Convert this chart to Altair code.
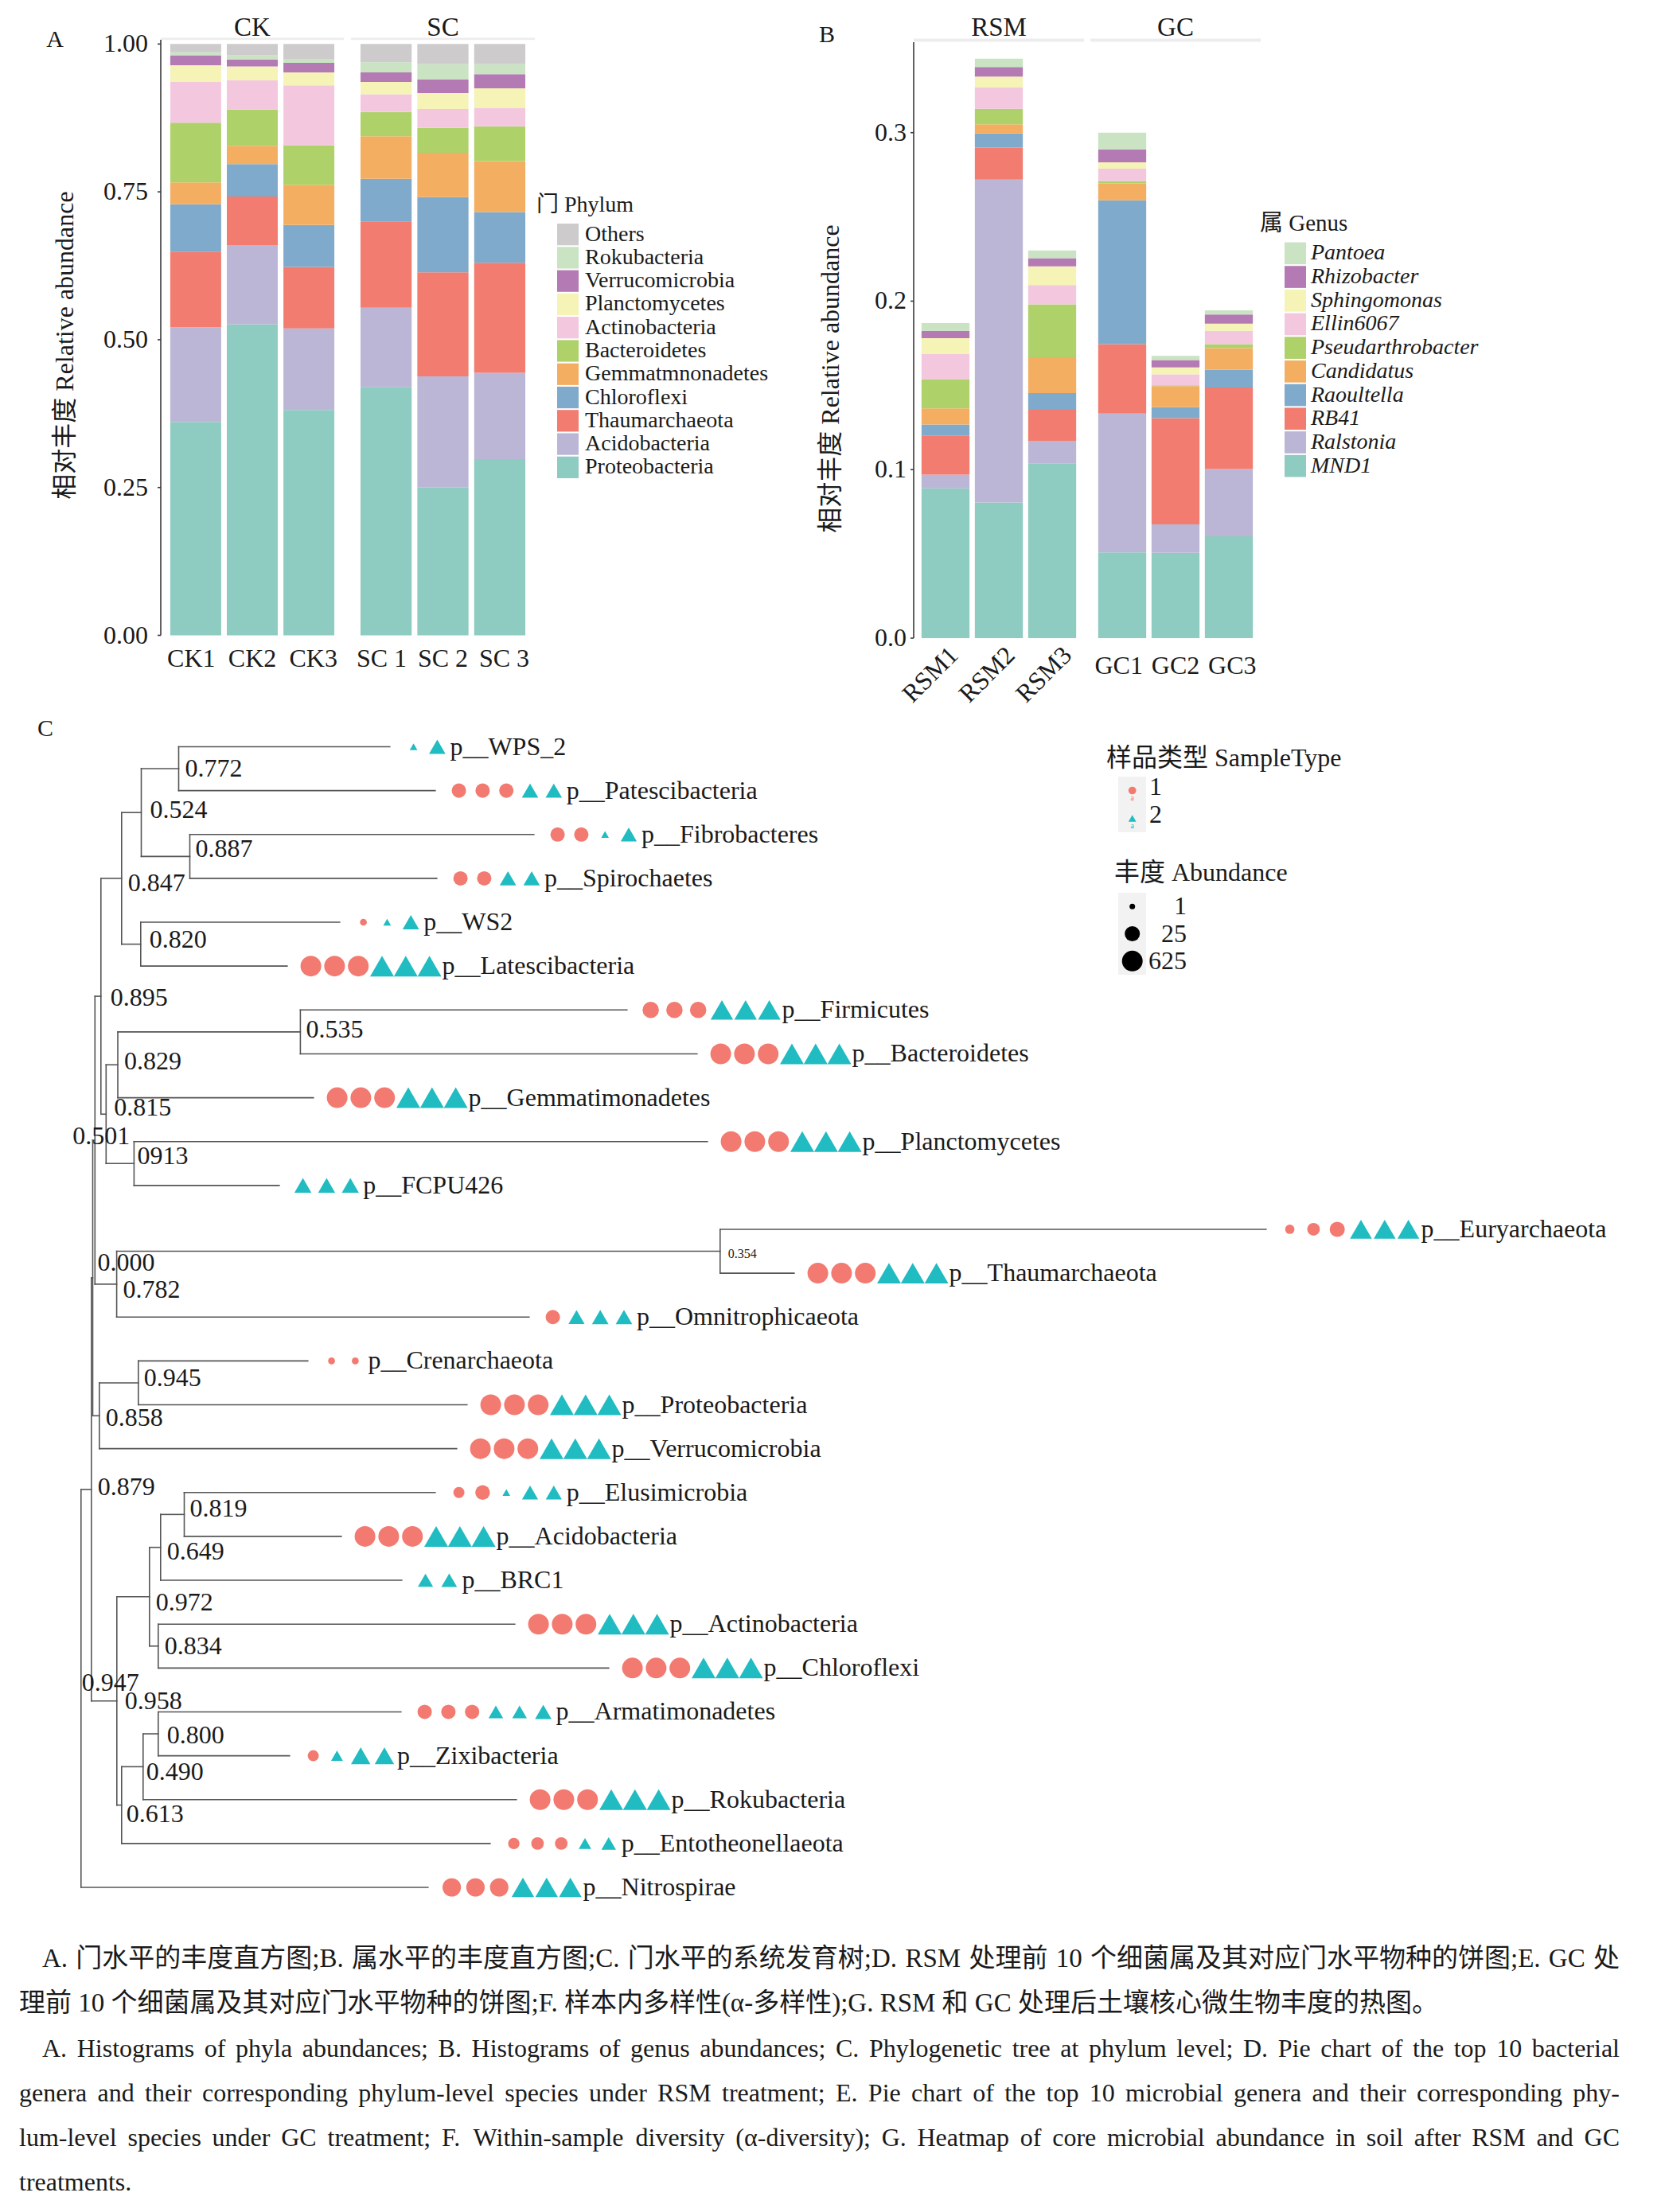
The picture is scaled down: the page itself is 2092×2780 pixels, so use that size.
import altair as alt
import pandas as pd

OFF = 8.0


def P(v):
    return v - OFF


FONT = "'Liberation Serif', 'Noto Sans CJK SC', serif"
INK = "#1a1a1a"
AXIS = "#3a3a3a"
BRANCH = "#555555"
RED = "#F27A70"
TEAL = "#20BCC2"

# ---------------- Panel A : phylum level ----------------
phyla = ["Proteobacteria", "Acidobacteria", "Thaumarchaeota", "Chloroflexi", "Gemmatmnonadetes",
         "Bacteroidetes", "Actinobacteria", "Planctomycetes", "Verrucomicrobia", "Rokubacteria", "Others"]
phyla_colors = ["#8ECBC0", "#BCB6D6", "#F17C6F", "#7FAACC", "#F4AE62", "#AED16A",
                "#F3C8DF", "#F5F3B6", "#B47AB3", "#C9E3C3", "#CDCBCB"]
samples_CK = ["CK1", "CK2", "CK3"]
samples_SC = ["SC 1", "SC 2", "SC 3"]
CK1 = [0.361, 0.160, 0.128, 0.080, 0.037, 0.101, 0.069, 0.028, 0.017, 0.005, 0.014]
CK2 = [0.526, 0.134, 0.082, 0.055, 0.031, 0.061, 0.050, 0.023, 0.012, 0.007, 0.019]
CK3 = [0.381, 0.138, 0.104, 0.071, 0.068, 0.067, 0.101, 0.022, 0.016, 0.007, 0.025]
SC1 = [0.420, 0.134, 0.146, 0.072, 0.072, 0.041, 0.030, 0.021, 0.016, 0.017, 0.031]
SC2 = [0.250, 0.188, 0.176, 0.127, 0.075, 0.042, 0.032, 0.027, 0.023, 0.026, 0.034]
SC3 = [0.298, 0.146, 0.186, 0.086, 0.086, 0.059, 0.031, 0.033, 0.024, 0.017, 0.034]
A_ticks = [0.0, 0.25, 0.50, 0.75, 1.00]
A_tick_labels = ["0.00", "0.25", "0.50", "0.75", "1.00"]

# ---------------- Panel B : genus level ----------------
genera = ["MND1", "Ralstonia", "RB41", "Raoultella", "Candidatus", "Pseudarthrobacter",
          "Ellin6067", "Sphingomonas", "Rhizobacter", "Pantoea"]
genera_colors = phyla_colors[:10]
samples_RSM = ["RSM1", "RSM2", "RSM3"]
samples_GC = ["GC1", "GC2", "GC3"]
RSM1 = [0.0889, 0.0081, 0.0233, 0.0065, 0.0095, 0.0174, 0.0149, 0.0094, 0.0044, 0.0046]
RSM2 = [0.0805, 0.1916, 0.0190, 0.0084, 0.0054, 0.0092, 0.0127, 0.0065, 0.0057, 0.0049]
RSM3 = [0.1038, 0.0133, 0.0184, 0.0100, 0.0212, 0.0314, 0.0114, 0.0111, 0.0049, 0.0046]
GC1 = [0.0509, 0.0824, 0.0412, 0.0854, 0.0100, 0.0014, 0.0073, 0.0038, 0.0076, 0.0100]
GC2 = [0.0507, 0.0168, 0.0631, 0.0065, 0.0125, 0.0005, 0.0065, 0.0041, 0.0043, 0.0025]
GC3 = [0.0604, 0.0399, 0.0485, 0.0105, 0.0128, 0.0024, 0.0079, 0.0043, 0.0054, 0.0025]
B_ticks = [0.0, 0.1, 0.2, 0.3]
B_tick_labels = ["0.0", "0.1", "0.2", "0.3"]

# ---------------- Panel C : phylogenetic tree ----------------
tip_names = ["WPS_2", "Patescibacteria", "Fibrobacteres", "Spirochaetes", "WS2", "Latescibacteria",
             "Firmicutes", "Bacteroidetes", "Gemmatimonadetes", "Planctomycetes", "FCPU426",
             "Euryarchaeota", "Thaumarchaeota", "Omnitrophicaeota", "Crenarchaeota", "Proteobacteria",
             "Verrucomicrobia", "Elusimicrobia", "Acidobacteria", "BRC1", "Actinobacteria",
             "Chloroflexi", "Armatimonadetes", "Zixibacteria", "Rokubacteria", "Entotheonellaeota",
             "Nitrospirae"]
tip_depth = [388, 445, 569, 447, 325, 259, 686, 774, 292, 787, 249, 1489, 896, 563, 285, 485,
             472, 445, 327, 403, 545, 663, 402, 262, 547, 514, 436]
# abundance of each sample of type 1 (circles) and type 2 (triangles)
tip_type1 = [[], [17, 17, 17], [17, 17], [17, 17], [1.3], [625, 625, 625],
             [45, 45, 45], [625, 625, 625], [625, 625, 625], [625, 625, 625], [],
             [2.5, 8, 25], [625, 625, 625], [17], [1.3, 1.3], [625, 625, 625],
             [625, 625, 625], [4.5, 20], [625, 625, 625], [], [625, 625, 625],
             [625, 625, 625], [17, 17, 17], [4.5], [625, 625, 625], [5, 8, 8],
             [150, 150, 150]]
tip_type2 = [[1.2, 16], [16, 16], [1.2, 14], [16, 16], [1.2, 16], [625, 625, 625],
             [300, 300, 300], [625, 625, 625], [625, 625, 625], [625, 625, 625], [20, 20, 20],
             [200, 200, 200], [625, 625, 625], [14, 17, 17], [], [625, 625, 625],
             [625, 625, 625], [1.2, 14, 14], [625, 625, 625], [10, 12], [625, 625, 625],
             [625, 625, 625], [8, 8, 16], [3.3, 60, 60], [625, 625, 625], [4, 8],
             [300, 300, 300]]
node_names = ["n0947", "n0879", "n0000", "n0501", "n0895", "n0847", "n0524", "n0772", "n0887",
              "n0820", "n0815", "n0829", "n0535", "n0913", "n0782", "n0354", "n0858", "n0945",
              "n0958", "n0972", "n0649", "n0819", "n0834", "n0613", "n0490", "n0800"]
node_support = ["0.947", "0.879", "0.000", "0.501", "0.895", "0.847", "0.524", "0.772", "0.887",
                "0.820", "0.815", "0.829", "0.535", "0913", "0.782", "0.354", "0.858", "0.945",
                "0.958", "0.972", "0.649", "0.819", "0.834", "0.613", "0.490", "0.800"]
node_depth = [0, 13, 14.7, 17.5, 25, 51, 75.7, 122.7, 136.7, 75, 31.5, 46.2, 275.6, 66.6,
              44.8, 803, 23, 72, 45, 86, 100, 129.7, 97, 51, 78, 97]
node_children = [
    ["n0879", "Nitrospirae"], ["n0000", "n0958"], ["n0501", "n0858"], ["n0895", "n0782"],
    ["n0847", "n0815"], ["n0524", "n0820"], ["n0772", "n0887"], ["WPS_2", "Patescibacteria"],
    ["Fibrobacteres", "Spirochaetes"], ["WS2", "Latescibacteria"], ["n0829", "n0913"],
    ["n0535", "Gemmatimonadetes"], ["Firmicutes", "Bacteroidetes"], ["Planctomycetes", "FCPU426"],
    ["n0354", "Omnitrophicaeota"], ["Euryarchaeota", "Thaumarchaeota"], ["n0945", "Verrucomicrobia"],
    ["Crenarchaeota", "Proteobacteria"], ["n0972", "n0613"], ["n0649", "n0834"],
    ["n0819", "BRC1"], ["Elusimicrobia", "Acidobacteria"], ["Actinobacteria", "Chloroflexi"],
    ["n0490", "Entotheonellaeota"], ["n0800", "Rokubacteria"], ["Armatimonadetes", "Zixibacteria"],
]
sample_types = ["1", "2"]
abundance_keys = [1, 25, 625]

caption_lines = [
    "A. 门水平的丰度直方图;B. 属水平的丰度直方图;C. 门水平的系统发育树;D. RSM 处理前 10 个细菌属及其对应门水平物种的饼图;E. GC 处",
    "理前 10 个细菌属及其对应门水平物种的饼图;F. 样本内多样性(α-多样性);G. RSM 和 GC 处理后土壤核心微生物丰度的热图。",
    "A. Histograms of phyla abundances; B. Histograms of genus abundances; C. Phylogenetic tree at phylum level; D. Pie chart of the top 10 bacterial",
    "genera and their corresponding phylum-level species under RSM treatment; E. Pie chart of the top 10 microbial genera and their corresponding phy-",
    "lum-level species under GC treatment; F. Within-sample diversity (α-diversity); G. Heatmap of core microbial abundance in soil after RSM and GC",
    "treatments.",
]

# ======================================================================
# layout helpers (placement of labels, not data)
node_label_nudge = {  # (dx, dy) in pixels, relative to the default node-label anchor
    "n0524": (3, -3), "n0887": (-1, -9), "n0820": (3, -6), "n0847": (0, 6), "n0895": (4, 2),
    "n0535": (-1, -3), "n0829": (0, -4), "n0913": (-4, -9), "n0815": (2, -8), "n0501": (-36, -5),
    "n0000": (-2, -19), "n0782": (0, 7), "n0354": (2, 3), "n0945": (-1, -6), "n0858": (0, 3),
    "n0879": (0, -3), "n0819": (-1, -7), "n0649": (0, 5), "n0972": (0, 7), "n0947": (-7, -7),
    "n0958": (2, 0), "n0800": (3, 2), "n0490": (-4, 7), "n0613": (-2, 11),
}

TIMES_W = {" ": 250, "!": 333, "(": 333, ")": 333, ",": 250, "-": 333, ".": 250, ";": 278,
           ":": 278, "α": 520,
           "A": 722, "B": 667, "C": 667, "D": 722, "E": 611, "F": 556, "G": 722, "H": 722, "I": 333,
           "J": 389, "K": 722, "L": 611, "M": 889, "N": 722, "O": 722, "P": 556, "Q": 722, "R": 667,
           "S": 556, "T": 611, "U": 722, "V": 722, "W": 944, "X": 722, "Y": 722, "Z": 611,
           "a": 444, "b": 500, "c": 444, "d": 500, "e": 444, "f": 333, "g": 500, "h": 500, "i": 278,
           "j": 278, "k": 500, "l": 278, "m": 778, "n": 500, "o": 500, "p": 500, "q": 500, "r": 333,
           "s": 389, "t": 278, "u": 500, "v": 500, "w": 722, "x": 500, "y": 500, "z": 444}


def text_width(s, size):
    w = 0
    for ch in s:
        if ch in TIMES_W:
            w += TIMES_W[ch]
        elif ch.isdigit():
            w += 500
        elif ord(ch) > 0x2E80:
            w += 1000
        else:
            w += 500
    return w / 1000.0 * size


layers = []


def label(text, x, y, size=32, align="left", baseline="middle", angle=0, italic=False, color=INK):
    props = dict(align=align, baseline=baseline, fontSize=size, font=FONT, color=color)
    if angle:
        props["angle"] = angle
    if italic:
        props["fontStyle"] = "italic"
    return alt.Chart(pd.DataFrame({"t": [text]})).mark_text(**props).encode(
        x=alt.value(P(x)), y=alt.value(P(y)), text="t:N")


def justified(text, x0, x1, y, size):
    words = text.split(" ")
    widths = [text_width(w, size) for w in words]
    gap = (x1 - x0 - sum(widths)) / max(len(words) - 1, 1)
    out = []
    x = x0
    for i, (w, wd) in enumerate(zip(words, widths)):
        if i == len(words) - 1:
            out.append(label(w, x1, y, size=size, align="right"))
        else:
            out.append(label(w, x, y, size=size))
        x += wd + gap
    return out


def box(x1, x2, y1, y2, color):
    return alt.Chart(pd.DataFrame({"k": [0]})).mark_rect(color=color).encode(
        x=alt.value(P(x1)), x2=alt.value(P(x2)), y=alt.value(P(y1)), y2=alt.value(P(y2)))


def band(samples, xr, pin, pout):
    return alt.Scale(domain=samples, range=[P(xr[0]), P(xr[1])], paddingInner=pin, paddingOuter=pout)


def stacked(samples, values_list, cats, colors, xsc, ysc):
    rows = []
    for s, vals in zip(samples, values_list):
        for i, (c, v) in enumerate(zip(cats, vals)):
            rows.append(dict(sample=s, cat=c, idx=i, value=v))
    df = pd.DataFrame(rows)
    return alt.Chart(df).mark_bar().encode(
        x=alt.X("sample:N", scale=xsc, axis=None),
        y=alt.Y("value:Q", stack="zero", scale=ysc, axis=None),
        color=alt.Color("cat:N", scale=alt.Scale(domain=cats, range=colors), legend=None),
        order=alt.Order("idx:Q", sort="ascending"),
    )


def xlabels(samples, xsc, y, align="center", baseline="alphabetic"):
    props = dict(align=align, baseline=baseline, fontSize=32, font=FONT, color=INK)
    return alt.Chart(pd.DataFrame({"sample": samples})).mark_text(**props).encode(
        x=alt.X("sample:N", scale=xsc, axis=None), y=alt.value(P(y)), text="sample:N")


def yaxis(ticks, labels, ysc, ydom, x_axis, label_right):
    df = pd.DataFrame({"v": ticks, "lab": labels})
    line = alt.Chart(pd.DataFrame({"v": [ydom[0]], "v2": [ydom[1]]})).mark_rule(
        color=AXIS, strokeWidth=1.6).encode(
        x=alt.value(P(x_axis)), y=alt.Y("v:Q", scale=ysc, axis=None), y2="v2:Q")
    tk = alt.Chart(df).mark_rule(color=AXIS, strokeWidth=1.6).encode(
        x=alt.value(P(x_axis - 4)), x2=alt.value(P(x_axis)), y=alt.Y("v:Q", scale=ysc, axis=None))
    lb = alt.Chart(df).mark_text(align="right", baseline="middle", fontSize=32, font=FONT,
                                 color=INK).encode(
        x=alt.value(P(label_right)), y=alt.Y("v:Q", scale=ysc, axis=None), text="lab:N")
    return [line, tk, lb]


def legend_block(cats, colors, yr, x_sw, x_lab, italic, size):
    df = pd.DataFrame({"cat": cats})
    ysc = alt.Scale(domain=cats, range=[P(yr[0]), P(yr[1])], paddingInner=0.07, paddingOuter=0.035)
    csc = alt.Scale(domain=cats, range=colors)
    sw = alt.Chart(df).mark_rect().encode(
        x=alt.value(P(x_sw)), x2=alt.value(P(x_sw + 27)),
        y=alt.Y("cat:N", scale=ysc, axis=None),
        color=alt.Color("cat:N", scale=csc, legend=None))
    props = dict(align="left", baseline="middle", fontSize=size, font=FONT, color=INK)
    if italic:
        props["fontStyle"] = "italic"
    tx = alt.Chart(df).mark_text(**props).encode(
        x=alt.value(P(x_lab)), y=alt.Y("cat:N", scale=ysc, axis=None), text="cat:N")
    return [sw, tx]


# ---------------- Panel A ----------------
A_dom = [0, 1.0073]
A_ysc = alt.Scale(domain=A_dom, range=[P(798.5), P(49.9)], nice=False, zero=True)
xsc_CK = band(samples_CK, (202, 432), 0.1, 0.1675)
xsc_SC = band(samples_SC, (441, 672), 0.1, 0.1675)
layers.append(box(202, 432, 47.4, 50.2, "#EDEDED"))
layers.append(box(441, 672, 47.4, 50.2, "#EDEDED"))
layers.append(stacked(samples_CK, [CK1, CK2, CK3], phyla, phyla_colors, xsc_CK, A_ysc))
layers.append(stacked(samples_SC, [SC1, SC2, SC3], phyla, phyla_colors, xsc_SC, A_ysc))
layers += yaxis(A_ticks, A_tick_labels, A_ysc, A_dom, 202, 186)
layers.append(xlabels(samples_CK, xsc_CK, 838))
layers.append(xlabels(samples_SC, xsc_SC, 838))
layers.append(label("CK", 317, 44.5, size=33, align="center", baseline="alphabetic"))
layers.append(label("SC", 556.5, 44.5, size=33, align="center", baseline="alphabetic"))
layers.append(label("A", 69, 50, size=30, align="center"))
layers.append(label("相对丰度 Relative abundance", 82, 434, size=32, align="center", angle=270))
layers.append(label("门 Phylum", 674, 258, size=28))
layers += legend_block(phyla[::-1], phyla_colors[::-1], (280, 602), 700, 735, False, 28)

# ---------------- Panel B ----------------
B_dom = [0, 0.3537]
B_ysc = alt.Scale(domain=B_dom, range=[P(802), P(53)], nice=False, zero=True)
xsc_RSM = band(samples_RSM, (1148, 1362), 0.1, 0.147)
xsc_GC = band(samples_GC, (1370, 1584), 0.1, 0.147)
layers.append(box(1148, 1362, 48.6, 52.6, "#EDEDED"))
layers.append(box(1370, 1584, 48.6, 52.6, "#EDEDED"))
layers.append(stacked(samples_RSM, [RSM1, RSM2, RSM3], genera, genera_colors, xsc_RSM, B_ysc))
layers.append(stacked(samples_GC, [GC1, GC2, GC3], genera, genera_colors, xsc_GC, B_ysc))
layers += yaxis(B_ticks, B_tick_labels, B_ysc, B_dom, 1148, 1139)
layers.append(alt.Chart(pd.DataFrame({"sample": samples_RSM})).mark_text(
    align="right", baseline="top", fontSize=32, font=FONT, color=INK, angle=315, dx=6).encode(
    x=alt.X("sample:N", scale=xsc_RSM, axis=None), y=alt.value(P(812)), text="sample:N"))
layers.append(xlabels(samples_GC, xsc_GC, 847))
layers.append(label("RSM", 1255, 44.8, size=33, align="center", baseline="alphabetic"))
layers.append(label("GC", 1477, 44.8, size=33, align="center", baseline="alphabetic"))
layers.append(label("B", 1039, 44, size=30, align="center"))
layers.append(label("相对丰度 Relative abundance", 1044, 476, size=32, align="center", angle=270))
layers.append(label("属 Genus", 1583, 281, size=29))
layers += legend_block(genera[::-1], genera_colors[::-1], (303.5, 600.5), 1614, 1647, True, 28)

# ---------------- Panel C : tree layout from the arrays ----------------
depth = dict(zip(tip_names, tip_depth))
depth.update(zip(node_names, node_depth))
kids = dict(zip(node_names, node_children))
ypos = {n: float(i) for i, n in enumerate(tip_names)}


def get_y(n):
    if n in ypos:
        return ypos[n]
    ys = [get_y(c) for c in kids[n]]
    ypos[n] = (ys[0] + ys[-1]) / 2.0
    return ypos[n]


for n in node_names:
    get_y(n)

segs = []
for n in node_names:
    ys = [ypos[c] for c in kids[n]]
    segs.append(dict(x=depth[n], x2=depth[n], y=min(ys), y2=max(ys)))
    for c in kids[n]:
        segs.append(dict(x=depth[n], x2=depth[c], y=ypos[c], y2=ypos[c]))
seg_df = pd.DataFrame(segs)

T_X0, T_X1 = 101.8, 1701.8
T_Y0, T_Y1 = 938.5, 2372.0
T_xsc = alt.Scale(domain=[0, 1600], range=[P(T_X0), P(T_X1)], nice=False, zero=False)
T_ysc = alt.Scale(domain=[0, 26], range=[P(T_Y0), P(T_Y1)], nice=False, zero=False)
PX_PER_TIP = (T_Y1 - T_Y0) / 26.0
PX_PER_UNIT = (T_X1 - T_X0) / 1600.0
STEP = 29.8

sym_rows, lab_rows = [], []
for i, name in enumerate(tip_names):
    k = 0
    for a in tip_type1[i]:
        k += 1
        sym_rows.append(dict(tip=name, stype="1", ab=a, x=tip_depth[i] + STEP * k, y=float(i)))
    for a in tip_type2[i]:
        k += 1
        sym_rows.append(dict(tip=name, stype="2", ab=a, x=tip_depth[i] + STEP * k, y=float(i)))
    lab_rows.append(dict(lab="p__" + name, x=tip_depth[i] + STEP * k + 16, y=float(i)))
sym_df = pd.DataFrame(sym_rows)
lab_df = pd.DataFrame(lab_rows)

node_rows = []
for n, s in zip(node_names, node_support):
    dx, dy = node_label_nudge.get(n, (0, 0))
    node_rows.append(dict(name=n, lab=s, x=depth[n] + (8 + dx) / PX_PER_UNIT,
                          y=ypos[n] + dy / PX_PER_TIP))
node_df = pd.DataFrame(node_rows)

layers.append(alt.Chart(seg_df).mark_rule(color=BRANCH, strokeWidth=1.6, strokeCap="square").encode(
    x=alt.X("x:Q", scale=T_xsc, axis=None), x2="x2:Q",
    y=alt.Y("y:Q", scale=T_ysc, axis=None), y2="y2:Q"))

shape_sc = alt.Scale(domain=sample_types, range=["circle", "triangle-up"])
color_sc = alt.Scale(domain=sample_types, range=[RED, TEAL])
for st, rng in (("1", [49, 676]), ("2", [70, 900])):
    layers.append(alt.Chart(sym_df[sym_df.stype == st]).mark_point(
        filled=True, opacity=1, strokeWidth=0).encode(
        x=alt.X("x:Q", scale=T_xsc, axis=None),
        y=alt.Y("y:Q", scale=T_ysc, axis=None),
        shape=alt.Shape("stype:N", scale=shape_sc, legend=None),
        color=alt.Color("stype:N", scale=color_sc, legend=None),
        size=alt.Size("ab:Q", scale=alt.Scale(type="log", domain=[1, 625], range=rng), legend=None)))

layers.append(alt.Chart(lab_df).mark_text(align="left", baseline="middle", fontSize=32, font=FONT,
                                          color=INK).encode(
    x=alt.X("x:Q", scale=T_xsc, axis=None), y=alt.Y("y:Q", scale=T_ysc, axis=None), text="lab:N"))
layers.append(alt.Chart(node_df[node_df.name != "n0354"]).mark_text(
    align="left", baseline="middle", fontSize=32, font=FONT, color=INK).encode(
    x=alt.X("x:Q", scale=T_xsc, axis=None), y=alt.Y("y:Q", scale=T_ysc, axis=None), text="lab:N"))
layers.append(alt.Chart(node_df[node_df.name == "n0354"]).mark_text(
    align="left", baseline="middle", fontSize=16, font=FONT, color=INK).encode(
    x=alt.X("x:Q", scale=T_xsc, axis=None), y=alt.Y("y:Q", scale=T_ysc, axis=None), text="lab:N"))
layers.append(label("C", 57, 916, size=30, align="center"))

# tree legends
layers.append(label("样品类型 SampleType", 1390, 953, size=32))
layers.append(box(1405, 1440, 976, 1046, "#F2F2F2"))
st_df = pd.DataFrame({"stype": sample_types})
st_ysc = alt.Scale(domain=sample_types, range=[P(976), P(1046)], paddingInner=0, paddingOuter=0)
layers.append(alt.Chart(st_df).mark_point(filled=True, opacity=1, strokeWidth=0, size=95).encode(
    x=alt.value(P(1422.7)), y=alt.Y("stype:N", scale=st_ysc, axis=None),
    shape=alt.Shape("stype:N", scale=shape_sc, legend=None),
    color=alt.Color("stype:N", scale=color_sc, legend=None)))
layers.append(alt.Chart(st_df).mark_text(fontSize=10, font=FONT, dy=9, text="a", align="center",
                                         baseline="middle").encode(
    x=alt.value(P(1422.7)), y=alt.Y("stype:N", scale=st_ysc, axis=None),
    color=alt.Color("stype:N", scale=color_sc, legend=None)))
layers.append(alt.Chart(st_df).mark_text(align="left", baseline="middle", fontSize=32, font=FONT,
                                         color=INK, dy=-5).encode(
    x=alt.value(P(1444)), y=alt.Y("stype:N", scale=st_ysc, axis=None), text="stype:N"))

layers.append(label("丰度 Abundance", 1400, 1097, size=32))
layers.append(box(1405, 1440, 1122, 1225, "#F2F2F2"))
ab_df = pd.DataFrame({"ab": abundance_keys, "lab": [str(v) for v in abundance_keys]})
ab_ysc = alt.Scale(domain=[str(v) for v in abundance_keys], range=[P(1122), P(1225)],
                   paddingInner=0, paddingOuter=0)
layers.append(alt.Chart(ab_df).mark_point(filled=True, opacity=1, strokeWidth=0, shape="circle",
                                          color="#000000").encode(
    x=alt.value(P(1422.7)), y=alt.Y("lab:N", scale=ab_ysc, axis=None),
    size=alt.Size("ab:Q", scale=alt.Scale(type="log", domain=[1, 625], range=[49, 676]), legend=None)))
layers.append(alt.Chart(ab_df).mark_text(align="right", baseline="middle", fontSize=32, font=FONT,
                                         color=INK).encode(
    x=alt.value(P(1491)), y=alt.Y("lab:N", scale=ab_ysc, axis=None), text="lab:N"))

# ---------------- Caption ----------------
CAP_R = 2035
layers += justified(caption_lines[0], 53, CAP_R, 2462, 33)
layers.append(label(caption_lines[1], 24, 2518, size=33))
layers += justified(caption_lines[2], 53, CAP_R, 2575, 32)
layers += justified(caption_lines[3], 24, CAP_R, 2631, 32)
layers += justified(caption_lines[4], 24, CAP_R, 2687, 32)
layers.append(label(caption_lines[5], 24, 2743, size=32))

chart = alt.layer(*layers).resolve_scale(
    x="independent", y="independent", color="independent", size="independent", shape="independent"
).properties(
    width=2076, height=2764, padding=0, autosize=alt.AutoSizeParams(type="none")
).configure_view(strokeWidth=0)

chart.save("out.html", embed_options={"renderer": "svg", "actions": False})
